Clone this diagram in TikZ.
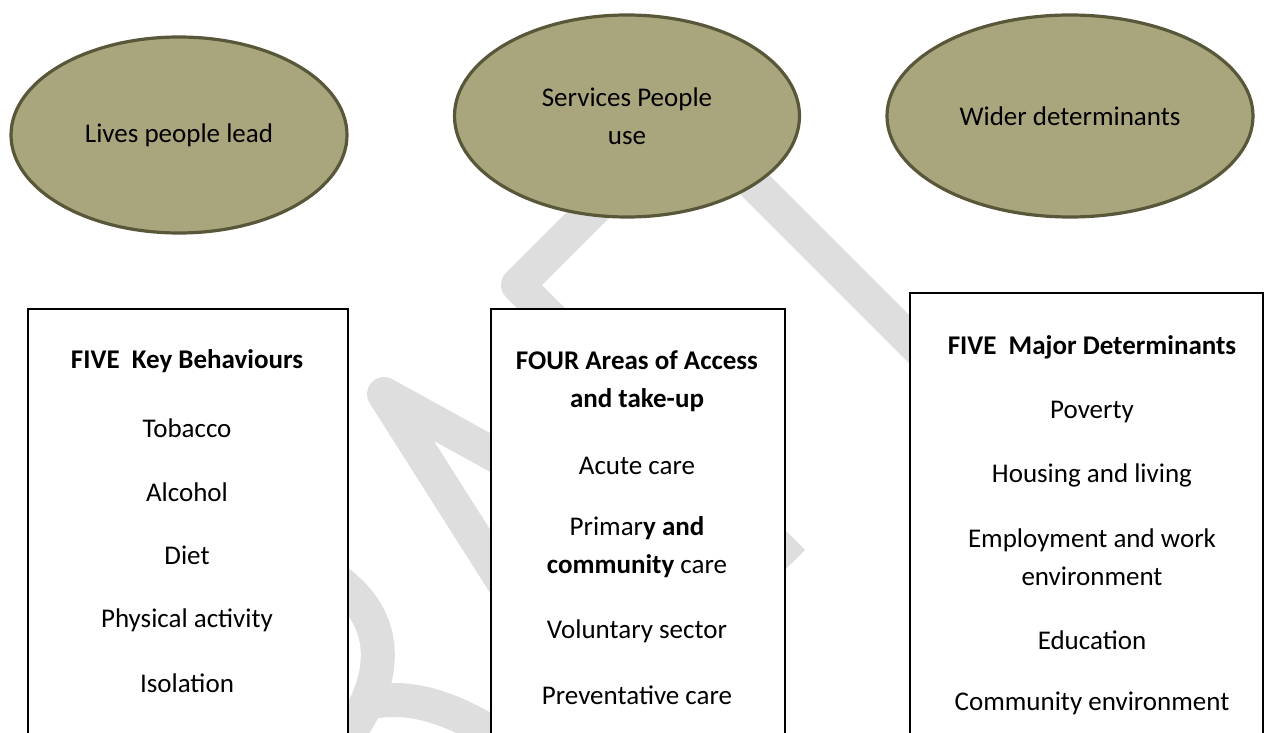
\documentclass[tikz,border=0pt]{standalone}
\usepackage{fontspec}
\setmainfont{Carlito}
\usetikzlibrary{shapes.geometric}
\definecolor{olivefill}{HTML}{A9A67D}
\definecolor{oliveline}{HTML}{58573A}
\definecolor{wmgray}{HTML}{DEDEDE}
\begin{document}
\begin{tikzpicture}[x=1pt,y=-1pt,
  oval/.style={ellipse, draw=oliveline, line width=3.2pt, fill=olivefill, inner sep=0pt,
    font=\fontsize{27}{38}\selectfont, align=center},
  panel/.style={draw=black, line width=2pt, fill=white, anchor=north west, inner sep=0pt},
  txt/.style={font=\fontsize{27}{38}\selectfont, align=center, inner sep=0pt},
  wm/.style={draw=wmgray, line width=34pt, line join=round, line cap=butt}]
\useasboundingbox (0,0) rectangle (1264,733);
% watermark (DRAFT, partly hidden)
\draw[wm] (320,570) .. controls (395,612) and (392,680) .. (340,745);
\draw[wm] (372,702) .. controls (410,695) and (455,705) .. (520,752);
\draw[wm] (540,480) -- (384,394) -- (540,640);
\draw[wm] (605,198) -- (518,285) -- (793,562);
\draw[wm] (690,120) -- (1000,430);
% ellipses
\node[oval, minimum width=336, minimum height=196] (lives) at (179,135) {Lives people lead};
\node[oval, minimum width=345, minimum height=202] (services) at (627,116) {Services People\\use};
\node[oval, minimum width=366, minimum height=202] (wider) at (1070,116) {Wider determinants};
% boxes
\node[panel, minimum width=320, minimum height=440] (leftbox) at (27,308) {};
\node[panel, minimum width=294, minimum height=440] (midbox) at (490,308) {};
\node[panel, minimum width=353, minimum height=460] (rightbox) at (909,292) {};
% left box text
\node[txt] (lh) at (187,361) {\textbf{FIVE\ \ Key Behaviours}};
\node[txt] (l1) at (187,428) {Tobacco};
\node[txt] (l2) at (187,492) {Alcohol};
\node[txt] (l3) at (187,555) {Diet};
\node[txt] (l4) at (187,620) {Physical activity};
\node[txt] (l5) at (187,683) {Isolation};
% middle box text
\node[txt] (mh) at (637,381) {\textbf{FOUR Areas of Access}\\\textbf{and take-up}};
\node[txt] (m1) at (637,466) {Acute care};
\node[txt] (m2) at (637,547) {Primar\textbf{y and}\\\textbf{community} care};
\node[txt] (m3) at (637,631) {Voluntary sector};
\node[txt] (m4) at (637,695) {Preventative care};
% right box text
\node[txt] (rh) at (1092,347) {\textbf{FIVE\ \ Major Determinants}};
\node[txt] (r1) at (1092,412) {Poverty};
\node[txt] (r2) at (1092,475) {Housing and living};
\node[txt] (r3) at (1092,557) {Employment and work\\environment};
\node[txt] (r4) at (1092,640) {Education};
\node[txt] (r5) at (1092,703) {Community environment};
\end{tikzpicture}
\end{document}
